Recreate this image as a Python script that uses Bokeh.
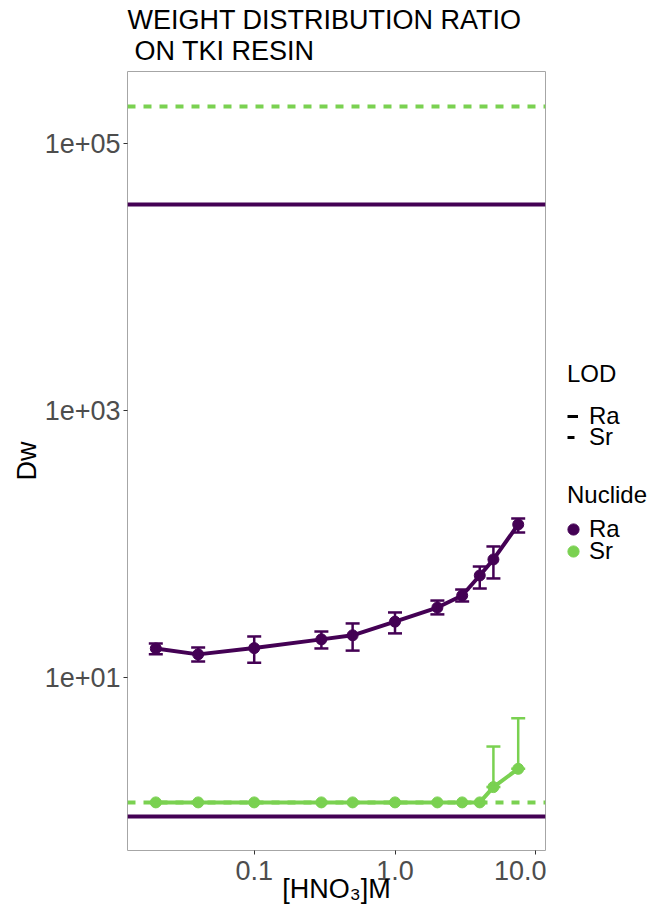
import numpy as np
from bokeh.plotting import figure
from bokeh.layouts import row
from bokeh.models import (Range1d, FixedTicker, CustomJSTickFormatter, Whisker, TeeHead,
                          ColumnDataSource, Legend, LegendItem, Title)
from bokeh.embed import file_html
from bokeh.resources import INLINE

# ---------------- data ----------------
hno3 = [0.02, 0.04, 0.1, 0.3, 0.5, 1.0, 2.0, 3.0, 4.0, 5.0, 7.5]

ra_dw = [16.5, 14.9, 16.6, 19.3, 20.7, 26.2, 33.4, 41.1, 58.1, 76.6, 140.0]
ra_lo = [14.9, 13.2, 12.9, 16.5, 15.9, 21.4, 29.7, 37.1, 46.4, 55.2, 122.0]
ra_hi = [18.0, 16.8, 20.3, 22.1, 25.4, 30.7, 37.7, 45.6, 67.8, 95.8, 155.0]

sr_dw = [1.16, 1.16, 1.16, 1.16, 1.16, 1.16, 1.16, 1.16, 1.16, 1.51, 2.07]
sr_lo = [1.16, 1.16, 1.16, 1.16, 1.16, 1.16, 1.16, 1.16, 1.16, 1.51, 2.07]
sr_hi = [1.16, 1.16, 1.16, 1.16, 1.16, 1.16, 1.16, 1.16, 1.16, 3.04, 4.96]

lod_ra = [34750.0, 0.914]
lod_sr = [189000.0, 1.16]

x_ticks = [0.1, 1.0, 10.0]
x_tick_labels = ["0.1", "1.0", "10.0"]
y_ticks = [10.0, 1000.0, 100000.0]
y_tick_labels = ["1e+01", "1e+03", "1e+05"]

title_lines = ["WEIGHT DISTRIBUTION RATIO", "ON TKI RESIN"]
x_label = "[HNO\u2083]M"
y_label = "Dw"
lod_title = "LOD"
nuc_title = "Nuclide"
nuclides = ["Ra", "Sr"]

RA_COLOR = "#440154"
SR_COLOR = "#7AD151"
FONT = "Liberation Sans"
BIG = "27px"
LEG = "24px"

# ---------------- main figure ----------------
p = figure(width=546, height=910, x_axis_type="log", y_axis_type="log",
           x_range=Range1d(0.01259, 11.72), y_range=Range1d(0.506, 346000),
           output_backend="svg", toolbar_location=None, title=None,
           min_border_left=127, min_border_right=1,
           min_border_top=71, min_border_bottom=60)

p.background_fill_color = "white"
p.border_fill_color = "white"
p.outline_line_color = "#A6A6A6"
p.outline_line_width = 1
p.xgrid.visible = False
p.ygrid.visible = False

fmt_code = """
let best = -1, bd = 1e9;
for (let i = 0; i < tvals.length; i++) {
  const d = Math.abs(Math.log10(tvals[i]) - Math.log10(tick));
  if (d < bd) { bd = d; best = i; }
}
return bd < 1e-6 ? tlabs[best] : "";
"""
p.xaxis.ticker = FixedTicker(ticks=x_ticks)
p.xaxis.formatter = CustomJSTickFormatter(args=dict(tvals=x_ticks, tlabs=x_tick_labels), code=fmt_code)
p.yaxis.ticker = FixedTicker(ticks=y_ticks)
p.yaxis.formatter = CustomJSTickFormatter(args=dict(tvals=y_ticks, tlabs=y_tick_labels), code=fmt_code)

for ax in (p.xaxis[0], p.yaxis[0]):
    ax.axis_line_color = None
    ax.major_tick_line_color = "#333333"
    ax.major_tick_out = 4
    ax.major_tick_in = 0
    ax.minor_tick_line_color = None
    ax.major_label_text_font = FONT
    ax.major_label_text_font_size = BIG
    ax.major_label_text_color = "#4D4D4D"
    ax.axis_label_text_font = FONT
    ax.axis_label_text_font_size = BIG
    ax.axis_label_text_font_style = "normal"
    ax.axis_label_text_color = "black"

p.xaxis.axis_label = x_label
p.yaxis.axis_label = y_label
p.xaxis.major_label_standoff = 6
p.xaxis.axis_label_standoff = -9
p.yaxis.major_label_standoff = 3
p.yaxis.axis_label_standoff = 0

# titles (first added is closest to the frame)
p.add_layout(Title(text=title_lines[1], text_font=FONT, text_font_size=BIG,
                   text_font_style="normal", text_color="black", align="left",
                   offset=7, standoff=11), "above")
p.add_layout(Title(text=title_lines[0], text_font=FONT, text_font_size=BIG,
                   text_font_style="normal", text_color="black", align="left",
                   offset=0, standoff=-12), "above")

# ---------------- LOD lines ----------------
p.hspan(y=lod_ra, line_color=RA_COLOR, line_width=4)
p.hspan(y=lod_sr, line_color=SR_COLOR, line_width=4, line_dash="8 8")

# ---------------- series ----------------
src_ra = ColumnDataSource(dict(x=hno3, y=ra_dw, lo=ra_lo, hi=ra_hi))
src_sr = ColumnDataSource(dict(x=hno3, y=sr_dw, lo=sr_lo, hi=sr_hi))

for src, col in ((src_ra, RA_COLOR), (src_sr, SR_COLOR)):
    p.add_layout(Whisker(source=src, base="x", upper="hi", lower="lo",
                         line_color=col, line_width=2.5, level="glyph",
                         upper_head=TeeHead(size=14, line_color=col, line_width=2.5),
                         lower_head=TeeHead(size=14, line_color=col, line_width=2.5)))

p.line("x", "y", source=src_ra, line_color=RA_COLOR, line_width=4)
p.line("x", "y", source=src_sr, line_color=SR_COLOR, line_width=4)
p.scatter("x", "y", source=src_ra, size=11, fill_color=RA_COLOR, line_color=RA_COLOR)
p.scatter("x", "y", source=src_sr, size=11, fill_color=SR_COLOR, line_color=SR_COLOR)

# ---------------- legend panel ----------------
lg = figure(width=110, height=910, x_range=Range1d(0, 1), y_range=Range1d(0, 1),
            output_backend="svg", toolbar_location=None, title=None,
            min_border_left=0, min_border_right=0, min_border_top=0, min_border_bottom=0)
lg.axis.visible = False
lg.xgrid.visible = False
lg.ygrid.visible = False
lg.outline_line_color = None
lg.border_fill_color = "white"

# invisible proxies (NaN data) that only supply legend glyph styles
nan = np.array([np.nan])
lod_ra_proxy = lg.line(x=nan, y=nan, line_color="black", line_width=3)
lod_sr_proxy = lg.line(x=nan, y=nan, line_color="black", line_width=3, line_dash="7 6")
ra_proxy = lg.scatter(x=nan, y=nan, fill_color=RA_COLOR, line_color=RA_COLOR)
sr_proxy = lg.scatter(x=nan, y=nan, fill_color=SR_COLOR, line_color=SR_COLOR)
blank_proxy = lg.line(x=nan, y=nan, line_alpha=0)

def make_legend(items, loc, title=None, gw=11, gh=20, standoff=11, tstand=10):
    kw = dict(items=items, location=loc,
              label_text_font=FONT, label_text_font_size=LEG, label_text_color="black",
              glyph_width=gw, glyph_height=gh, label_height=20, label_standoff=standoff,
              spacing=0, padding=0, margin=0,
              border_line_color=None, background_fill_alpha=0)
    if title is not None:
        kw.update(title=title, title_text_font=FONT, title_text_font_size=LEG,
                  title_text_font_style="normal", title_text_color="black",
                  title_standoff=tstand)
    return Legend(**kw)

# LOD group
lg.add_layout(make_legend([LegendItem(label=nuclides[0], renderers=[lod_ra_proxy])],
                          (21, 420), title=lod_title, tstand=14))
lg.add_layout(make_legend([LegendItem(label=nuclides[1], renderers=[lod_sr_proxy])],
                          (21, 399)))
# Nuclide group
lg.add_layout(make_legend([LegendItem(label=nuc_title, renderers=[blank_proxy])],
                          (21, 341), gw=0, standoff=0))
lg.add_layout(make_legend([LegendItem(label=nuclides[0], renderers=[ra_proxy])],
                          (13, 307), gw=28, gh=28, standoff=2))
lg.add_layout(make_legend([LegendItem(label=nuclides[1], renderers=[sr_proxy])],
                          (13, 285), gw=28, gh=28, standoff=2))

layout = row(p, lg, spacing=0)
open("out.html", "w").write(file_html(layout, INLINE))
